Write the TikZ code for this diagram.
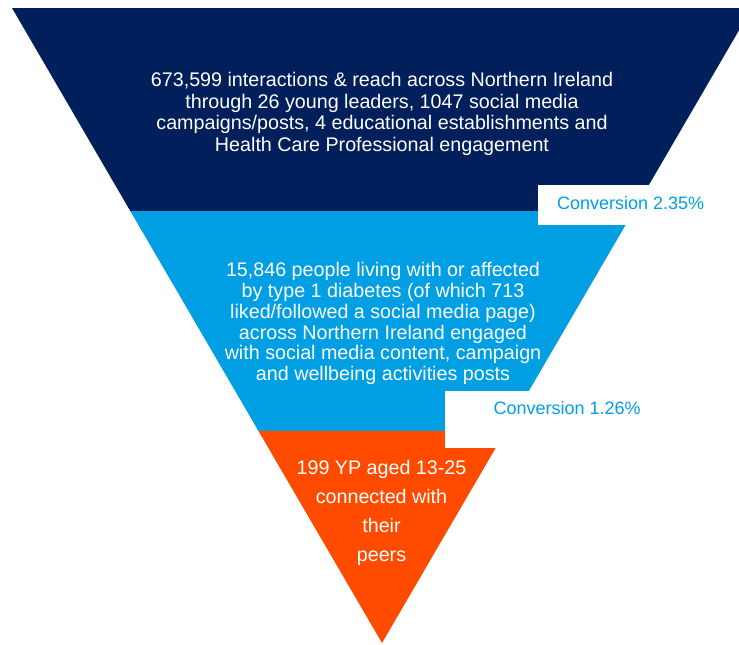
\documentclass[tikz,border=0pt]{standalone}
\usepackage{fontspec}
\setmainfont{Liberation Sans}
\usetikzlibrary{calc}
\definecolor{navy}{RGB}{0,31,91}
\definecolor{sky}{RGB}{0,159,227}
\definecolor{flame}{RGB}{255,75,0}
% multi-line labels sit on the baseline of their last line
\tikzset{
  stagetext/.style={text=white, inner sep=0pt, align=center, anchor=base,
    font=\fontsize{19.7}{21.6}\selectfont},
  convtext/.style={text=sky, inner sep=0pt, anchor=base west,
    font=\fontsize{18}{20}\selectfont},
}
\begin{document}
\begin{tikzpicture}[x=1pt,y=-1pt]
\useasboundingbox (0,0) rectangle (739,645);
\clip (0,0) rectangle (739,645);
% funnel outline
\coordinate (tl) at (12,8);
\coordinate (tr) at (752,8);
\coordinate (apex) at (382,643);
\coordinate (l1) at ($(tl)!0.3197!(apex)$);
\coordinate (r1) at ($(tr)!0.3197!(apex)$);
\coordinate (l2) at ($(tl)!0.6661!(apex)$);
\coordinate (r2) at ($(tr)!0.6661!(apex)$);
% stages
\fill[navy] (tl) -- (tr) -- (r1) -- (l1) -- cycle;
\fill[sky] (l1) -- (r1) -- (r2) -- (l2) -- cycle;
\fill[flame] (l2) -- (r2) -- (apex) -- cycle;
% conversion tabs
\fill[white] (538,185) rectangle (739,225);
\fill[white] (445,391) rectangle (739,448);
% labels
\node[stagetext] (reach) at (382,151.5) {673,599 interactions \& reach across Northern Ireland\\
through 26 young leaders, 1047 social media\\
campaigns/posts, 4 educational establishments and\\
Health Care Professional engagement};
\node[stagetext, font=\fontsize{19.7}{20.9}\selectfont] (engaged) at (383,380.8) {15,846 people living with or affected\\
by type 1 diabetes (of which 713\\
liked/followed a social media page)\\
across Northern Ireland engaged\\
with social media content, campaign\\
and wellbeing activities posts};
\node[stagetext, font=\fontsize{19.7}{29}\selectfont] (peers) at (381.5,561) {199 YP aged 13-25\\
connected with\\
their\\
peers};
\node[convtext] (conv1) at (557,209) {Conversion 2.35\%};
\node[convtext] (conv2) at (493.3,414.3) {Conversion 1.26\%};
\end{tikzpicture}
\end{document}
